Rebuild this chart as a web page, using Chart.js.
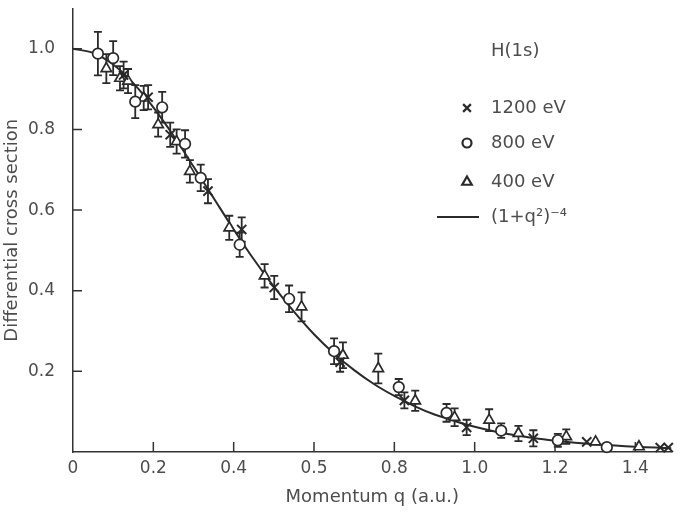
<!DOCTYPE html>
<html>
<head>
<meta charset="utf-8">
<script src="https://cdn.jsdelivr.net/npm/chart.js@4"></script>
<style>
	body { margin: 0; background: #fff; }
	#wrap { width: 680px; height: 513px; }
</style>
</head>
<body>
<div id="wrap"><canvas id="cross-section"></canvas></div>
<script>
// tick labels as printed in the figure (the 0.6 tick reads "0.5")
const xTickValues = [0, 0.2, 0.4, 0.6, 0.8, 1.0, 1.2, 1.4];
const xTickLabels = ["0", "0.2", "0.4", "0.5", "0.8", "1.0", "1.2", "1.4"];
const yTickValues = [0.2, 0.4, 0.6, 0.8, 1.0];

// 1200 eV (crosses)
const q1200 = [0.126, 0.187, 0.242, 0.336, 0.420, 0.501, 0.665, 0.825, 0.980, 1.146, 1.279, 1.462, 1.482];
const v1200 = [0.935, 0.880, 0.787, 0.647, 0.552, 0.408, 0.223, 0.128, 0.061, 0.034, 0.025, 0.011, 0.011];
const e1200 = [0.033, 0.030, 0.030, 0.030, 0.030, 0.029, 0.024, 0.020, 0.019, 0.020, 0, 0, 0];

// 800 eV (circles)
const q800 = [0.062, 0.100, 0.155, 0.222, 0.279, 0.318, 0.415, 0.538, 0.650, 0.811, 0.930, 1.066, 1.207, 1.329];
const v800 = [0.988, 0.977, 0.869, 0.855, 0.764, 0.680, 0.514, 0.380, 0.250, 0.161, 0.097, 0.053, 0.029, 0.012];
const e800 = [0.054, 0.042, 0.041, 0.038, 0.034, 0.033, 0.030, 0.033, 0.032, 0.020, 0.022, 0.018, 0.016, 0];

// 400 eV (triangles)
const q400 = [0.083, 0.117, 0.137, 0.176, 0.212, 0.258, 0.291, 0.389, 0.477, 0.569, 0.672, 0.760, 0.852, 0.950, 1.036, 1.109, 1.228, 1.301, 1.409];
const v400 = [0.951, 0.927, 0.920, 0.878, 0.812, 0.770, 0.696, 0.556, 0.437, 0.360, 0.240, 0.207, 0.127, 0.086, 0.079, 0.046, 0.038, 0.025, 0.013];
const e400 = [0.036, 0.030, 0.030, 0.030, 0.030, 0.030, 0.028, 0.030, 0.029, 0.036, 0.032, 0.037, 0.025, 0.022, 0.027, 0.019, 0.018, 0, 0];

// solid curve
const curveQ = [0, 0.05, 0.1, 0.15, 0.2, 0.25, 0.3, 0.35, 0.4, 0.45, 0.5, 0.55, 0.6, 0.65, 0.7, 0.75, 0.8, 0.85, 0.9, 0.95, 1.0, 1.05, 1.1, 1.15, 1.2, 1.25, 1.3, 1.35, 1.4, 1.45, 1.49];
const curveV = [1.000, 0.990, 0.961, 0.915, 0.855, 0.785, 0.708, 0.630, 0.552, 0.478, 0.410, 0.348, 0.292, 0.244, 0.203, 0.168, 0.139, 0.114, 0.093, 0.077, 0.0625, 0.051, 0.042, 0.034, 0.028, 0.023, 0.019, 0.016, 0.013, 0.011, 0.009];

const ink = "#2a2a2a";
const textColor = "#4d4d4d";
const fontFamily = "'DejaVu Sans', sans-serif";

function toPoints(xs, ys) {
	return xs.map((x, i) => ({ x: x, y: ys[i] }));
}

const errorBars = {
	id: "errorBars",
	beforeDatasetsDraw(chart) {
		const ctx = chart.ctx;
		const yScale = chart.scales.y;
		ctx.save();
		ctx.strokeStyle = ink;
		ctx.lineWidth = 1.8;
		chart.data.datasets.forEach((ds, di) => {
			if (!ds.errors) return;
			const meta = chart.getDatasetMeta(di);
			meta.data.forEach((pt, i) => {
				const err = ds.errors[i];
				if (!err) return;
				const v = ds.data[i].y;
				const top = yScale.getPixelForValue(v + err);
				const bot = yScale.getPixelForValue(v - err);
				ctx.beginPath();
				ctx.moveTo(pt.x, top);
				ctx.lineTo(pt.x, bot);
				ctx.moveTo(pt.x - 4, top);
				ctx.lineTo(pt.x + 4, top);
				ctx.moveTo(pt.x - 4, bot);
				ctx.lineTo(pt.x + 4, bot);
				ctx.stroke();
			});
		});
		ctx.restore();
	}
};

// tick marks point into the plot in the original
const innerTicks = {
	id: "innerTicks",
	beforeDatasetsDraw(chart) {
		const ctx = chart.ctx;
		const area = chart.chartArea;
		const xs = chart.scales.x, ys = chart.scales.y;
		ctx.save();
		ctx.strokeStyle = "#333";
		ctx.lineWidth = 1.5;
		ctx.beginPath();
		xTickValues.forEach(v => {
			if (v === 0) return;
			const px = xs.getPixelForValue(v);
			ctx.moveTo(px, area.bottom);
			ctx.lineTo(px, area.bottom - 10);
		});
		yTickValues.forEach(v => {
			const py = ys.getPixelForValue(v);
			ctx.moveTo(area.left, py);
			ctx.lineTo(area.left + 9, py);
		});
		ctx.stroke();
		ctx.restore();
	}
};

const legendBox = {
	id: "legendBox",
	afterDraw(chart) {
		const ctx = chart.ctx;
		const a = chart.chartArea;
		const mx = a.left + 394, tx = a.left + 418;
		ctx.save();
		ctx.font = "18px " + fontFamily;
		ctx.textBaseline = "middle";
		ctx.textAlign = "left";
		ctx.fillStyle = textColor;
		ctx.fillText("H(1s)", tx, 51);
		const rows = [
			{ style: "crossRot", label: "1200 eV", y: 108, r: 5.5 },
			{ style: "circle", label: "800 eV", y: 143, r: 4.5 },
			{ style: "triangle", label: "400 eV", y: 182, r: 5.5 }
		];
		rows.forEach(row => {
			ctx.fillStyle = "#fff";
			ctx.strokeStyle = ink;
			ctx.lineWidth = 2.2;
			Chart.helpers.drawPoint(ctx, {
				pointStyle: row.style, radius: row.r, borderWidth: 2.2, rotation: 0
			}, mx, row.y);
			ctx.fillStyle = textColor;
			ctx.fillText(row.label, tx, row.y);
		});
		ctx.strokeStyle = ink;
		ctx.lineWidth = 2;
		ctx.beginPath();
		ctx.moveTo(a.left + 364, 217);
		ctx.lineTo(a.left + 406, 217);
		ctx.stroke();
		ctx.fillStyle = textColor;
		ctx.fillText("(1+q²)⁻⁴", tx, 217);
		ctx.restore();
	}
};

const markerBase = {
	type: "scatter",
	showLine: false,
	pointBorderColor: ink,
	pointBackgroundColor: "#fff",
	pointBorderWidth: 1.7,
	clip: false
};

new Chart(document.querySelector("#cross-section"), {
	type: "scatter",
	data: {
		datasets: [{
			label: "(1+q²)⁻⁴",
			data: toPoints(curveQ, curveV),
			showLine: true,
			borderColor: ink,
			borderWidth: 2,
			pointRadius: 0,
			tension: 0.3,
			order: 4
		}, Object.assign({}, markerBase, {
			label: "400 eV",
			data: toPoints(q400, v400),
			errors: e400,
			pointStyle: "triangle",
			pointRadius: 6,
			order: 3
		}), Object.assign({}, markerBase, {
			label: "800 eV",
			data: toPoints(q800, v800),
			errors: e800,
			pointStyle: "circle",
			pointRadius: 5.3,
			order: 2
		}), Object.assign({}, markerBase, {
			label: "1200 eV",
			data: toPoints(q1200, v1200),
			errors: e1200,
			pointStyle: "crossRot",
			pointRadius: 6.5,
			pointBorderWidth: 2,
			order: 1
		})]
	},
	options: {
		responsive: true,
		maintainAspectRatio: false,
		animation: false,
		layout: { padding: { top: 7, right: 0, left: 0, bottom: 0 } },
		plugins: {
			legend: { display: false },
			tooltip: { enabled: false }
		},
		scales: {
			x: {
				type: "linear",
				min: 0,
				max: 1.49,
				afterBuildTicks: axis => { axis.ticks = xTickValues.map(v => ({ value: v })); },
				afterFit: axis => { axis.height = 61; },
				grid: { display: false, drawTicks: false },
				border: { display: true, color: "#333", width: 1.5 },
				ticks: {
					padding: 6,
					color: textColor,
					font: { family: fontFamily, size: 17 },
					maxRotation: 0,
					autoSkip: false,
					callback: (value, index) => xTickLabels[index]
				},
				title: {
					display: true,
					text: "Momentum q (a.u.)",
					color: textColor,
					font: { family: fontFamily, size: 18 },
					padding: { top: 4, bottom: 5 }
				}
			},
			y: {
				min: 0,
				max: 1.1,
				afterBuildTicks: axis => { axis.ticks = yTickValues.map(v => ({ value: v })); },
				afterFit: axis => { axis.width = 73; },
				grid: { display: false, drawTicks: true, tickLength: 18 },
				border: { display: true, color: "#333", width: 1.5 },
				ticks: {
					padding: 0,
					color: textColor,
					font: { family: fontFamily, size: 17, lineHeight: 0.8 },
					callback: value => value.toFixed(1)
				},
				title: {
					display: true,
					text: "Differential cross section",
					color: textColor,
					font: { family: fontFamily, size: 18 },
					padding: { top: 2, bottom: 4 }
				}
			}
		}
	},
	plugins: [errorBars, innerTicks, legendBox]
});
</script>
</body>
</html>
